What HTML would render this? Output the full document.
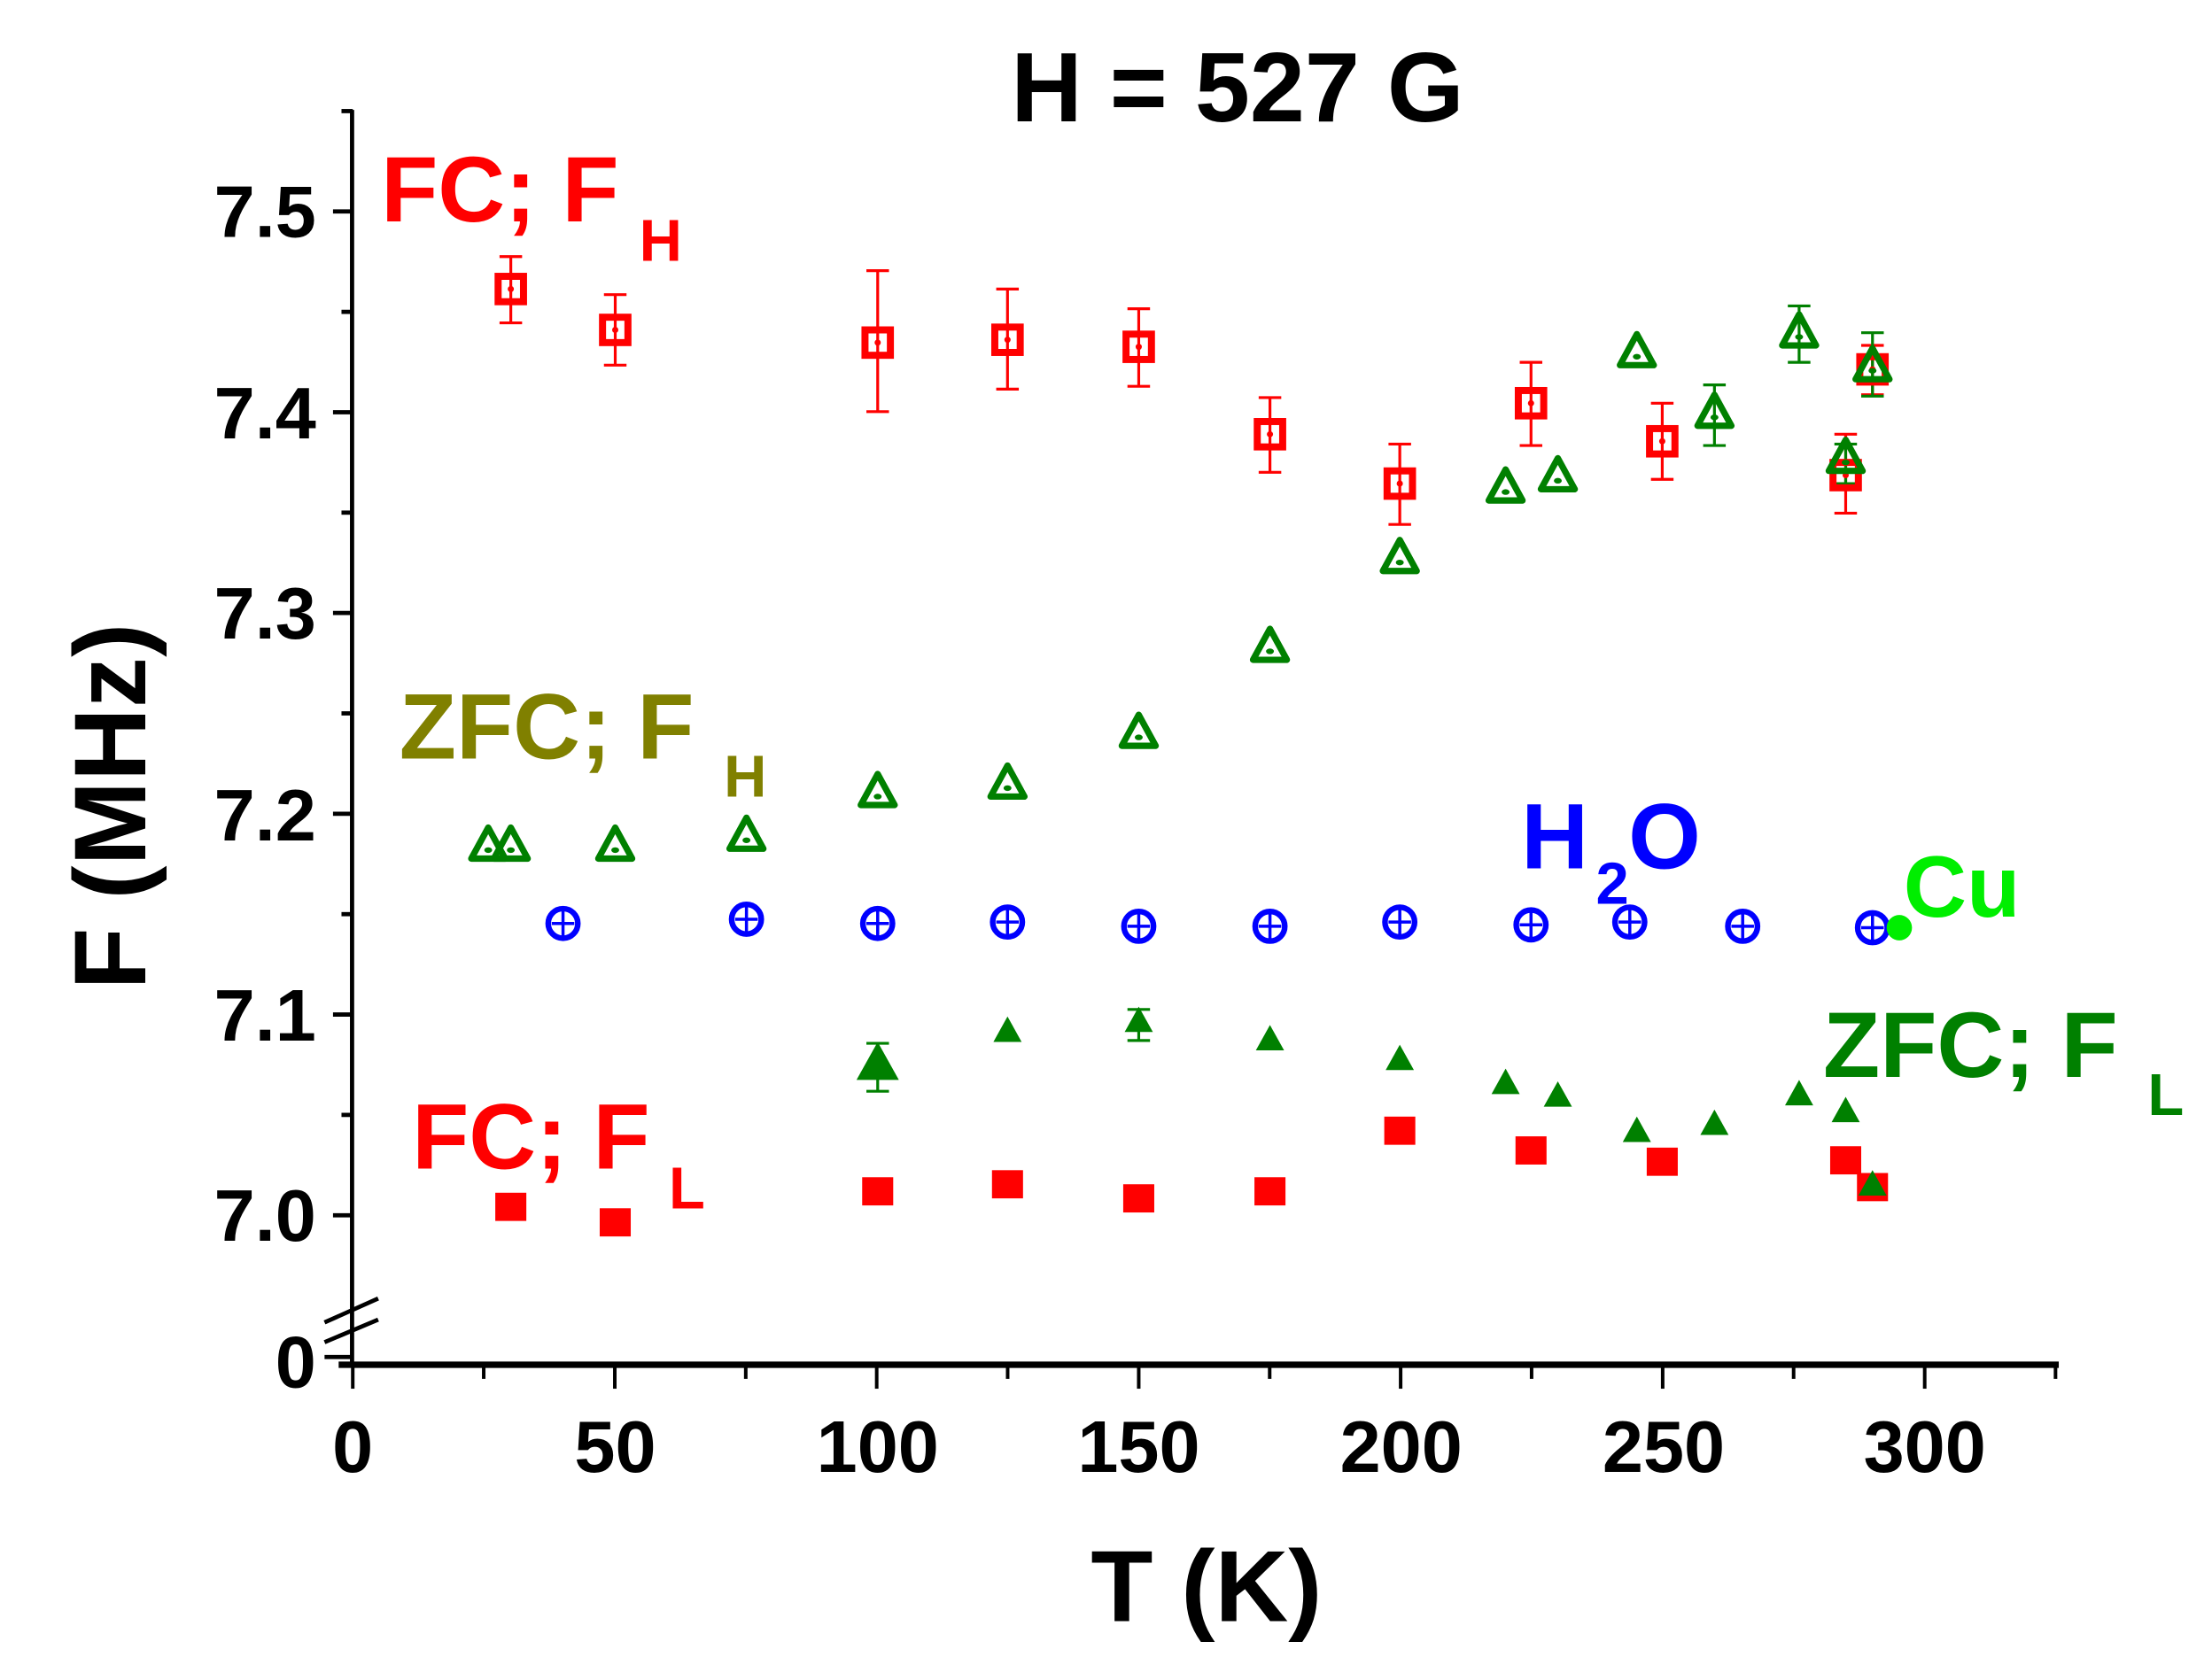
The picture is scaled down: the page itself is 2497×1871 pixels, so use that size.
<!DOCTYPE html>
<html><head><meta charset="utf-8"><style>html,body{margin:0;padding:0;background:#fff}svg{display:block}</style></head>
<body>
<svg width="2497" height="1871" viewBox="0 0 1567.6 1175.3" preserveAspectRatio="none" xmlns="http://www.w3.org/2000/svg" font-family="Liberation Sans, Arial, sans-serif" font-weight="bold">
<defs>
<g id="sq"><rect x="-9" y="-9" width="18" height="18" fill="none" stroke="red" stroke-width="5"/><circle r="2.2" fill="red"/></g>
<g id="sqf"><rect x="-11" y="-10" width="22" height="20" fill="red"/></g>
<g id="tri"><path d="M0,-13 L12,9 L-12,9 Z" fill="none" stroke="#008000" stroke-width="4.5" stroke-linejoin="round"/><ellipse cy="3" rx="2.8" ry="2" fill="#008000"/></g>
<g id="trif"><path d="M0,-10 L10,8 L-10,8 Z" fill="#008000"/></g>
<g id="cp"><circle r="10.5" fill="none" stroke="blue" stroke-width="4"/><path d="M0,-9 V9 M-8,0 H8" stroke="blue" stroke-width="2.2"/></g>
</defs>
<g stroke="#000" fill="none">
<line x1="249.5" y1="78" x2="249.5" y2="970" stroke-width="3"/>
<line x1="240" y1="968" x2="1459" y2="968" stroke-width="4.5"/>
<line x1="230" y1="962.5" x2="250" y2="962.5" stroke-width="3"/>
<line x1="230" y1="938" x2="268" y2="921" stroke-width="3"/>
<line x1="230" y1="952" x2="268" y2="936" stroke-width="3"/>
<g stroke-width="3">
<line x1="236" y1="150" x2="250" y2="150"/><line x1="236" y1="292.4" x2="250" y2="292.4"/><line x1="236" y1="434.8" x2="250" y2="434.8"/><line x1="236" y1="577.2" x2="250" y2="577.2"/><line x1="236" y1="719.6" x2="250" y2="719.6"/><line x1="236" y1="862" x2="250" y2="862"/>
<line x1="242" y1="78.8" x2="250" y2="78.8"/><line x1="242" y1="221.2" x2="250" y2="221.2"/><line x1="242" y1="363.6" x2="250" y2="363.6"/><line x1="242" y1="506" x2="250" y2="506"/><line x1="242" y1="648.4" x2="250" y2="648.4"/><line x1="242" y1="790.8" x2="250" y2="790.8"/>
</g>
<g stroke-width="2.5">
<line x1="250" y1="968" x2="250" y2="985"/><line x1="435.7" y1="968" x2="435.7" y2="985"/><line x1="621.3" y1="968" x2="621.3" y2="985"/><line x1="807" y1="968" x2="807" y2="985"/><line x1="992.6" y1="968" x2="992.6" y2="985"/><line x1="1178.3" y1="968" x2="1178.3" y2="985"/><line x1="1364" y1="968" x2="1364" y2="985"/>
<line x1="342.8" y1="968" x2="342.8" y2="978"/><line x1="528.5" y1="968" x2="528.5" y2="978"/><line x1="714.1" y1="968" x2="714.1" y2="978"/><line x1="899.8" y1="968" x2="899.8" y2="978"/><line x1="1085.4" y1="968" x2="1085.4" y2="978"/><line x1="1271.1" y1="968" x2="1271.1" y2="978"/><line x1="1456.7" y1="968" x2="1456.7" y2="978"/>
</g>
</g>
<g font-size="52" text-anchor="end" fill="#000">
<text x="224" y="168">7.5</text><text x="224" y="311">7.4</text><text x="224" y="453">7.3</text><text x="224" y="596">7.2</text><text x="224" y="738">7.1</text><text x="224" y="880">7.0</text><text x="224" y="984">0</text>
</g>
<g font-size="52" text-anchor="middle" fill="#000">
<text x="250" y="1044">0</text><text x="436" y="1044">50</text><text x="622" y="1044">100</text><text x="807" y="1044">150</text><text x="993" y="1044">200</text><text x="1179" y="1044">250</text><text x="1364" y="1044">300</text>
</g>
<text x="855" y="1150" font-size="72" text-anchor="middle">T (K)</text>
<text transform="translate(103,572) rotate(-90)" font-size="72" text-anchor="middle">F (MHz)</text>
<text x="877" y="86" font-size="70" text-anchor="middle">H = 527 G</text>
<text x="270" y="157" font-size="66" fill="red">FC; F</text><text x="453" y="185" font-size="42" fill="red">H</text>
<text x="283" y="538" font-size="66" fill="#808000">ZFC; F</text><text x="513" y="565" font-size="42" fill="#808000">H</text>
<text x="1078" y="616" font-size="66" fill="blue">H</text><text x="1131" y="641" font-size="42" fill="blue">2</text><text x="1154" y="616" font-size="66" fill="blue">O</text>
<text x="1349" y="650" font-size="62" fill="#00ee00">Cu</text>
<text x="1292" y="764" font-size="66" fill="#008000">ZFC; F</text><text x="1522" y="791" font-size="42" fill="#008000">L</text>
<text x="292" y="829" font-size="66" fill="red">FC; F</text><text x="474" y="857" font-size="42" fill="red">L</text>
<g stroke="red" stroke-width="2">
<path d="M362,182V229M354,182H370M354,229H370"/>
<path d="M436,209V259M428,209H444M428,259H444"/>
<path d="M622,192V292M614,192H630M614,292H630"/>
<path d="M714,205V276M706,205H722M706,276H722"/>
<path d="M807,219V274M799,219H815M799,274H815"/>
<path d="M900,282V335M892,282H908M892,335H908"/>
<path d="M992,315V372M984,315H1000M984,372H1000"/>
<path d="M1085,257V316M1077,257H1093M1077,316H1093"/>
<path d="M1178,286V340M1170,286H1186M1170,340H1186"/>
<path d="M1308,308V364M1300,308H1316M1300,364H1316"/>
<path d="M1327,245V280M1319,245H1335M1319,280H1335"/>
</g>
<g stroke="#008000" stroke-width="2">
<path d="M1215,273V316M1207,273H1223M1207,316H1223"/>
<path d="M1275,217V257M1267,217H1283M1267,257H1283"/>
<path d="M1327,236V281M1319,236H1335M1319,281H1335"/>
<path d="M1308,315V343M1300,315H1316M1300,343H1316"/>
<path d="M622,740V774M614,740H630M614,774H630"/>
<path d="M807,716V738M799,716H815M799,738H815"/>
</g>
<use href="#sq" x="362" y="205"/><use href="#sq" x="436" y="234"/><use href="#sq" x="622" y="243"/><use href="#sq" x="714" y="241"/><use href="#sq" x="807" y="246"/><use href="#sq" x="900" y="308"/><use href="#sq" x="992" y="343"/><use href="#sq" x="1085" y="286"/><use href="#sq" x="1178" y="313"/><use href="#sq" x="1308" y="337"/><use href="#sq" x="1327" y="262"/>
<use href="#tri" x="346" y="600"/><use href="#tri" x="362" y="600"/><use href="#tri" x="436" y="600"/><use href="#tri" x="529" y="593"/><use href="#tri" x="622" y="562"/><use href="#tri" x="714" y="556"/><use href="#tri" x="807" y="520"/><use href="#tri" x="900" y="459"/><use href="#tri" x="992" y="396"/><use href="#tri" x="1067" y="346"/><use href="#tri" x="1104" y="338"/><use href="#tri" x="1160" y="250"/><use href="#tri" x="1215" y="293"/><use href="#tri" x="1275" y="236"/><use href="#tri" x="1308" y="325"/><use href="#tri" x="1327" y="260"/>
<use href="#cp" x="399" y="655"/><use href="#cp" x="529" y="652"/><use href="#cp" x="622" y="655"/><use href="#cp" x="714" y="654"/><use href="#cp" x="807" y="657"/><use href="#cp" x="900" y="657"/><use href="#cp" x="992" y="654"/><use href="#cp" x="1085" y="656"/><use href="#cp" x="1155" y="654"/><use href="#cp" x="1235" y="657"/><use href="#cp" x="1327" y="658"/>
<circle cx="1346" cy="658" r="9" fill="#00ee00"/>
<use href="#sqf" x="362" y="856"/><use href="#sqf" x="436" y="867"/><use href="#sqf" x="622" y="845"/><use href="#sqf" x="714" y="840"/><use href="#sqf" x="807" y="850"/><use href="#sqf" x="900" y="845"/><use href="#sqf" x="992" y="802"/><use href="#sqf" x="1085" y="816"/><use href="#sqf" x="1178" y="824"/><use href="#sqf" x="1308" y="823"/><use href="#sqf" x="1327" y="842"/>
<g transform="translate(622,754) scale(1.5)"><use href="#trif"/></g>
<use href="#trif" x="714" y="731"/><use href="#trif" x="807" y="724"/><use href="#trif" x="900" y="737"/><use href="#trif" x="992" y="751"/><use href="#trif" x="1067" y="768"/><use href="#trif" x="1104" y="777"/><use href="#trif" x="1160" y="802"/><use href="#trif" x="1215" y="797"/><use href="#trif" x="1275" y="776"/><use href="#trif" x="1308" y="788"/><use href="#trif" x="1327" y="840"/>
</svg>
</body></html>
